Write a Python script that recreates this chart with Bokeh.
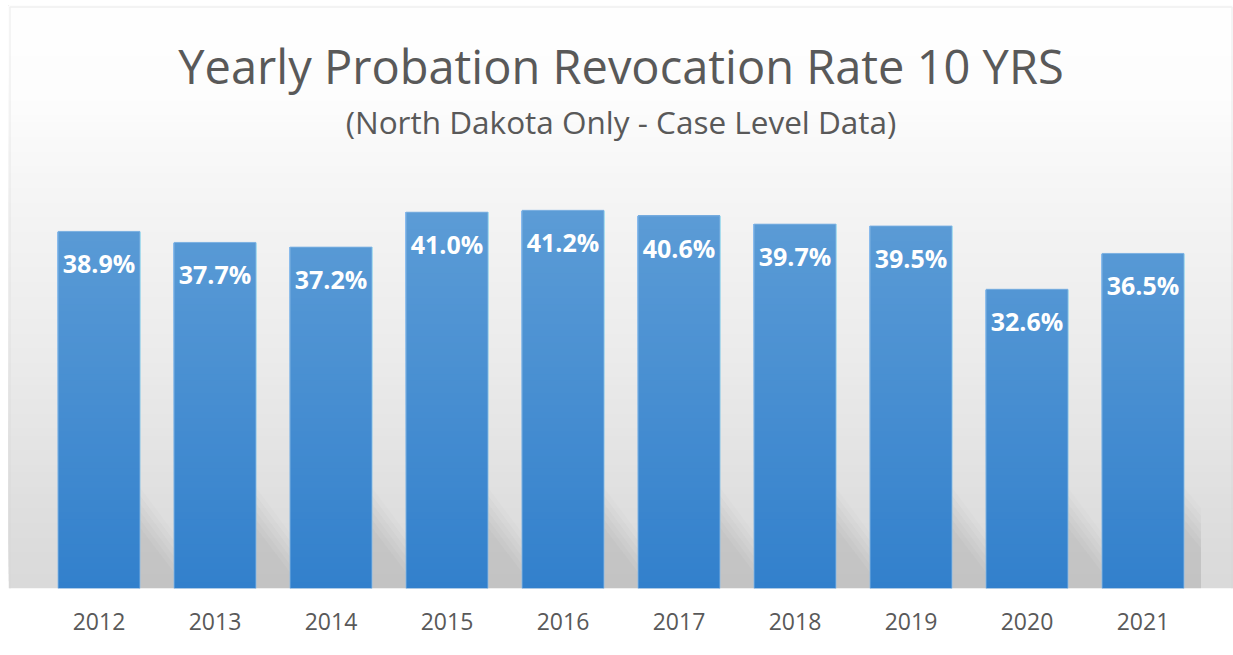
import numpy as np
from bokeh.plotting import figure
from bokeh.models import Range1d, FixedTicker, BoxAnnotation
from bokeh.core.properties import value
from bokeh.embed import file_html
from bokeh.resources import INLINE

# ---- data -------------------------------------------------------------
years = ["2012", "2013", "2014", "2015", "2016", "2017", "2018", "2019", "2020", "2021"]
rates = [38.9, 37.7, 37.2, 41.0, 41.2, 40.6, 39.7, 39.5, 32.6, 36.5]
rate_labels = [f"{r:.1f}%" for r in rates]
title_text = "Yearly Probation Revocation Rate 10 YRS"
subtitle_text = "(North Dakota Only - Case Level Data)"

# ---- geometry (pixels) ------------------------------------------------
WIDTH, HEIGHT = 1233, 655
FRAME_L, FRAME_R = 8, 1233
FRAME_T, FRAME_B = 5, 588
FIRST_CENTER = 98.5      # px of the first category centre
PX_PER_CAT = 116.0       # px between category centres
PX_PER_PCT = 9.18        # px per percentage point
BAR_W = 0.707            # bar width in category units

x_start = (FRAME_L - FIRST_CENTER) / PX_PER_CAT
x_end = (FRAME_R - FIRST_CENTER) / PX_PER_CAT
y_end = (FRAME_B - FRAME_T) / PX_PER_PCT


def px_to_y(py):
    return (FRAME_B - py) / PX_PER_PCT


def lerp_rgb(c0, c1, t):
    t = min(max(t, 0.0), 1.0)
    return "#%02x%02x%02x" % tuple(int(round(a + (b - a) * t)) for a, b in zip(c0, c1))


p = figure(width=WIDTH, height=HEIGHT,
           x_range=Range1d(x_start, x_end), y_range=Range1d(0, y_end),
           output_backend="svg", toolbar_location=None,
           y_axis_location=None,
           min_border_left=FRAME_L, min_border_right=WIDTH - FRAME_R,
           min_border_top=FRAME_T, min_border_bottom=HEIGHT - FRAME_B)
p.xgrid.visible = False
p.ygrid.visible = False
p.outline_line_color = None
p.border_fill_color = "#ffffff"
p.background_fill_color = "#ffffff"

# ---- background: vertical grey gradient --------------------------------
bg_stops = [(7, 255), (100, 253), (200, 245), (350, 236), (450, 228), (520, 222), (588, 218)]
stop_y = np.array([px_to_y(s[0]) for s in bg_stops])[::-1]
stop_g = np.array([s[1] for s in bg_stops], dtype=float)[::-1]
n_bg = 80
bg_lo = np.linspace(0, y_end, n_bg, endpoint=False)
bg_mid = bg_lo + (y_end / n_bg) / 2
bg_gray = np.interp(bg_mid, stop_y, stop_g)
bg_colors = ["#%02x%02x%02x" % (int(g), int(g), int(g)) for g in bg_gray]
p.quad(left=x_start, right=x_end, bottom=bg_lo, top=y_end,
       fill_color=bg_colors, line_color=None)

# ---- perspective shadows to the right of each bar ----------------------
sh_h = 80 / PX_PER_PCT
sh_w = 58 / PX_PER_CAT
area_right = 9.5
for f, a in [(1.3, 0.025), (1.2, 0.03), (1.1, 0.035), (1.0, 0.035), (0.9, 0.035), (0.8, 0.03)]:
    xs, ys = [], []
    for i in range(len(rates)):
        r = i + BAR_W / 2
        h, w = sh_h * f, sh_w * f
        if r + w > area_right:
            yc = h * (1 - (area_right - r) / w)
            xs.append([r - 0.02, r - 0.02, area_right, area_right])
            ys.append([0, h, yc, 0])
        else:
            xs.append([r - 0.02, r - 0.02, r + w])
            ys.append([0, h, 0])
    p.patches(xs=xs, ys=ys, fill_color="#6e6e6e", fill_alpha=a, line_color=None)

# ---- bars with a vertical blue gradient --------------------------------
bar_bottom_rgb = (50, 128, 204)
bar_top_rgb = (92, 156, 214)
n_bar = 60
top_val = max(rates)
b_x, b_bot, b_top, b_col = [], [], [], []
for lo in np.linspace(0, top_val, n_bar, endpoint=False):
    col = lerp_rgb(bar_bottom_rgb, bar_top_rgb, (lo + top_val / n_bar / 2) / top_val)
    for i, r in enumerate(rates):
        if r > lo:
            b_x.append(i)
            b_bot.append(lo)
            b_top.append(r)
            b_col.append(col)
p.vbar(x=b_x, bottom=b_bot, top=b_top, width=BAR_W, fill_color=b_col, line_color=None)
p.vbar(x=list(range(len(rates))), top=rates, width=BAR_W,
       fill_alpha=0, line_color="#8fbbe6", line_alpha=0.8, line_width=1)

# ---- value labels inside the bars -------------------------------------
p.text(x=list(range(len(rates))), y=rates, text=rate_labels, y_offset=32,
       text_align="center", text_baseline="middle", text_color="#ffffff",
       text_font=value("Open Sans"), text_font_style="bold", text_font_size="25px")

# ---- titles ------------------------------------------------------------
cx = (len(rates) - 1) / 2
p.text(x=[cx], y=[px_to_y(65)], text=[title_text], text_align="center",
       text_baseline="middle", text_color="#595959",
       text_font=value("Open Sans"), text_font_size="47px")
p.text(x=[cx], y=[px_to_y(121)], text=[subtitle_text], text_align="center",
       text_baseline="middle", text_color="#595959",
       text_font=value("Open Sans"), text_font_size="31.5px")

# ---- category axis -----------------------------------------------------
ax = p.xaxis[0]
ax.ticker = FixedTicker(ticks=list(range(len(years))))
ax.major_label_overrides = {i: y for i, y in enumerate(years)}
ax.axis_line_color = None
ax.major_tick_line_color = None
ax.minor_tick_line_color = None
ax.major_label_standoff = 18
ax.major_label_text_font = "Open Sans"
ax.major_label_text_font_size = "23px"
ax.major_label_text_color = "#595959"

# ---- chart border ------------------------------------------------------
p.add_layout(BoxAnnotation(left=9.5, right=1231.5, top=6.5, bottom=700,
                           left_units="canvas", right_units="canvas",
                           top_units="canvas", bottom_units="canvas",
                           fill_alpha=0, line_color="#d0d0d0", line_width=1.5,
                           level="overlay"))

open("out.html", "w").write(file_html(p, INLINE))
